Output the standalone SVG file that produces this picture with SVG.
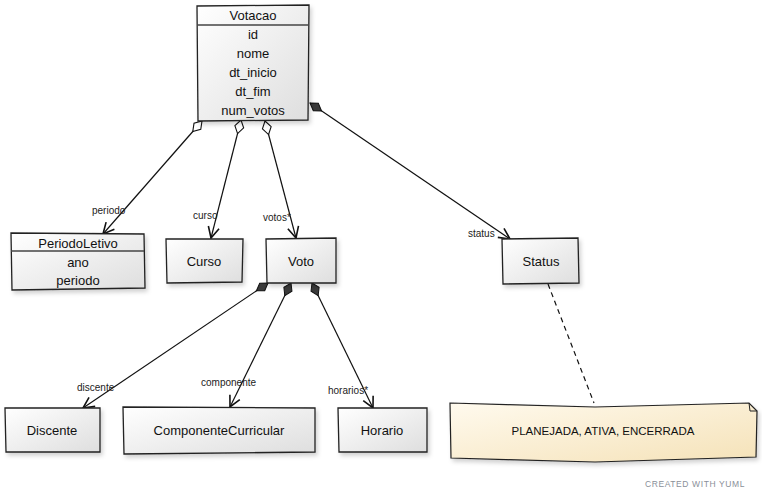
<svg xmlns="http://www.w3.org/2000/svg" width="762" height="500" viewBox="0 0 762 500">
  <style>
    .box { fill: url(#boxFill); stroke: #222; stroke-width: 1.3; filter: url(#shadow); }
    .sep { stroke: #444; stroke-width: 1.5; }
    .t { font-family: "Liberation Sans", "DejaVu Sans", sans-serif; font-size: 13px; fill: #111; text-anchor: middle; }
    .lbl { font-family: "Liberation Sans", "DejaVu Sans", sans-serif; font-size: 10px; fill: #222; }
    .edge { fill: none; stroke: #111; stroke-width: 1.2; }
    .agg { marker-start: url(#hollowDiamond); marker-end: url(#openArrow); }
    .comp { marker-start: url(#filledDiamond); marker-end: url(#openArrow); }
  </style>
  <defs>
    <linearGradient id="boxFill" x1="0" y1="0" x2="1" y2="1">
      <stop offset="0" stop-color="#ffffff"/>
      <stop offset="1" stop-color="#dedede"/>
    </linearGradient>
    <linearGradient id="noteFill" x1="0" y1="0" x2="1" y2="1">
      <stop offset="0" stop-color="#fffaee"/>
      <stop offset="1" stop-color="#f5e2b8"/>
    </linearGradient>
    <filter id="shadow" x="-10%" y="-10%" width="125%" height="130%">
      <feDropShadow dx="2" dy="3" stdDeviation="2" flood-color="#000" flood-opacity="0.18"/>
    </filter>
    <marker id="hollowDiamond" markerUnits="userSpaceOnUse" markerWidth="18" markerHeight="14" refX="1" refY="7" orient="auto" viewBox="0 0 18 14">
      <path d="M1,7 L8,2.5 L15,7 L8,11.5 Z" fill="#fff" stroke="#111" stroke-width="1.1"/>
    </marker>
    <marker id="filledDiamond" markerUnits="userSpaceOnUse" markerWidth="18" markerHeight="14" refX="1" refY="7" orient="auto" viewBox="0 0 18 14">
      <path d="M1,7 L8,2.5 L15,7 L8,11.5 Z" fill="#3a3a3a" stroke="#111" stroke-width="1"/>
    </marker>
    <marker id="openArrow" markerUnits="userSpaceOnUse" markerWidth="14" markerHeight="14" refX="12" refY="7" orient="auto" viewBox="0 0 14 14">
      <path d="M1,1.5 L12,7 L1,12.5" fill="none" stroke="#111" stroke-width="1.6"/>
    </marker>
  </defs>

  <rect width="762" height="500" fill="#fff"/>

  <!-- connectors -->
  <g id="connectors">
    <path class="edge agg" d="M202,121 L103,234"/>
    <path class="edge agg" d="M241,120 L211,238"/>
    <path class="edge agg" d="M265,121 L296,238"/>
    <path class="edge comp" d="M310,103 L510,239"/>
    <path class="edge comp" d="M268,283 L83,408"/>
    <path class="edge comp" d="M291,283 L230,407"/>
    <path class="edge comp" d="M312,283 L373,408"/>
    <path class="edge" d="M548,284 L594,403" stroke-dasharray="5,4"/>
    <text class="lbl" x="92" y="214">periodo</text>
    <text class="lbl" x="193" y="219">curso</text>
    <text class="lbl" x="263" y="221">votos*</text>
    <text class="lbl" x="468" y="237">status</text>
    <text class="lbl" x="77" y="391">discente</text>
    <text class="lbl" x="201" y="386">componente</text>
    <text class="lbl" x="328" y="394">horarios*</text>
  </g>

  <!-- classes -->
  <g id="Votacao">
    <path class="box" d="M197,6 L309,5 L308,120 L198,121 Z"/>
    <line class="sep" x1="197" y1="25" x2="309" y2="25"/>
    <text class="t" x="253" y="20">Votacao</text>
    <text class="t" x="253" y="39">id</text>
    <text class="t" x="253" y="58">nome</text>
    <text class="t" x="253" y="77">dt_inicio</text>
    <text class="t" x="253" y="96">dt_fim</text>
    <text class="t" x="253" y="115">num_votos</text>
  </g>

  <g id="PeriodoLetivo">
    <path class="box" d="M11,233 L144,234 L145,288 L12,290 Z"/>
    <line class="sep" x1="11" y1="251" x2="144" y2="251"/>
    <text class="t" x="78" y="248">PeriodoLetivo</text>
    <text class="t" x="78" y="267">ano</text>
    <text class="t" x="78" y="285">periodo</text>
  </g>

  <g id="Curso">
    <path class="box" d="M166,239 L243,239 L242,282 L167,283 Z"/>
    <text class="t" x="204" y="266">Curso</text>
  </g>

  <g id="Voto">
    <path class="box" d="M266,239 L336,238 L336,283 L267,283 Z"/>
    <text class="t" x="301" y="266">Voto</text>
  </g>

  <g id="Status">
    <path class="box" d="M502,239 L578,238 L579,283 L503,284 Z"/>
    <text class="t" x="541" y="266">Status</text>
  </g>

  <g id="Discente">
    <path class="box" d="M5,408 L100,408 L100,452 L6,452 Z"/>
    <text class="t" x="52" y="435">Discente</text>
  </g>

  <g id="ComponenteCurricular">
    <path class="box" d="M123,407 L315,408 L315,452 L124,454 Z"/>
    <text class="t" x="219" y="435">ComponenteCurricular</text>
  </g>

  <g id="Horario">
    <path class="box" d="M338,408 L427,408 L427,452 L339,452 Z"/>
    <text class="t" x="382" y="435">Horario</text>
  </g>

  <!-- note -->
  <g id="Note">
    <path d="M450,403 L595,407 L749,403 L757,411 L756,457 L595,462 L451,458 Z" fill="url(#noteFill)" stroke="#222" stroke-width="1.2" filter="url(#shadow)"/>
    <path d="M749,403 L750,411 L757,411" fill="none" stroke="#222" stroke-width="1"/>
    <text class="t" x="603" y="435" style="font-size:11.5px">PLANEJADA, ATIVA, ENCERRADA</text>
  </g>

  <text x="745" y="487" text-anchor="end" font-family="Liberation Sans, DejaVu Sans, sans-serif" font-size="8.5" fill="#8a8f99" letter-spacing="0.6">CREATED WITH YUML</text>
</svg>
